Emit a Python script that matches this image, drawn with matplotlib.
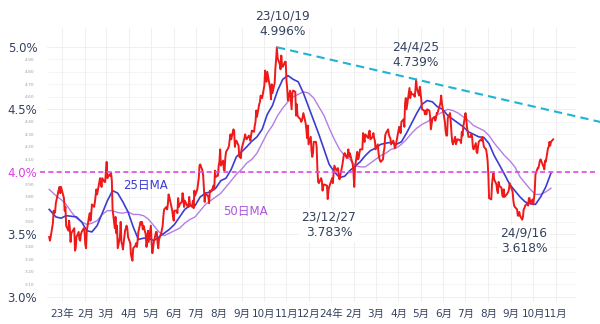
import pandas as pd
import numpy as np
import matplotlib
matplotlib.use("Agg")
import matplotlib.pyplot as plt
import matplotlib.dates as mdates

plt.rcParams['font.family'] = ['DejaVu Sans', 'Noto Sans CJK JP']

# US 10y yield, daily closes (%)
yields_2022 = [3.48, 3.45, 3.48, 3.59, 3.69, 3.67, 3.68, 3.75, 3.86, 3.88, 3.83, 3.88]
yields_2023 = [
    3.79, 3.69, 3.72, 3.57, 3.53, 3.61, 3.55, 3.44, 3.51, 3.55, 3.37, 3.39, 3.48, 3.52, 3.46, 3.45, 3.50, 3.52, 3.55, 3.52,
    3.42, 3.39, 3.53, 3.64, 3.67, 3.61, 3.66, 3.74, 3.72, 3.76, 3.81, 3.86, 3.82, 3.95, 3.92, 3.88, 3.95, 3.92, 3.92,
    4.01, 4.08, 3.95, 3.98, 3.97, 3.99, 3.93, 3.70, 3.55, 3.64, 3.51, 3.57, 3.39, 3.48, 3.60, 3.44, 3.42, 3.38, 3.53, 3.55, 3.57, 3.55, 3.48,
    3.43, 3.34, 3.31, 3.29, 3.39, 3.41, 3.43, 3.40, 3.45, 3.52, 3.60, 3.58, 3.60, 3.54, 3.57, 3.50, 3.40, 3.45, 3.53, 3.44,
    3.57, 3.43, 3.35, 3.39, 3.44, 3.52, 3.52, 3.44, 3.39, 3.46, 3.51, 3.54, 3.57, 3.65, 3.70, 3.72, 3.70, 3.74, 3.82, 3.80, 3.69, 3.64,
    3.61, 3.69, 3.69, 3.67, 3.79, 3.72, 3.74, 3.76, 3.83, 3.79, 3.72, 3.77, 3.72, 3.72, 3.80, 3.74, 3.72, 3.77, 3.71, 3.85, 3.81,
    3.86, 3.95, 4.05, 4.06, 4.01, 3.97, 3.86, 3.76, 3.83, 3.81, 3.80, 3.75, 3.85, 3.84, 3.87, 3.89, 3.86, 4.01, 3.96, 3.97,
    4.05, 4.08, 4.18, 4.05, 4.09, 4.02, 4.01, 4.11, 4.16, 4.19, 4.21, 4.26, 4.30, 4.26, 4.34, 4.33, 4.20, 4.24, 4.25, 4.21, 4.12, 4.12, 4.11,
    4.18, 4.27, 4.30, 4.27, 4.26, 4.29, 4.28, 4.25, 4.29, 4.33, 4.32, 4.37, 4.40, 4.49, 4.44, 4.54, 4.56, 4.61, 4.59, 4.59,
    4.69, 4.81, 4.73, 4.72, 4.80, 4.66, 4.58, 4.70, 4.63, 4.71, 4.83, 4.90, 4.996, 4.91, 4.86, 4.82, 4.93, 4.85, 4.84, 4.88, 4.88,
    4.73, 4.67, 4.57, 4.65, 4.57, 4.50, 4.63, 4.65, 4.64, 4.45, 4.54, 4.45, 4.44, 4.42, 4.40, 4.41, 4.47, 4.39, 4.34, 4.27, 4.37,
    4.22, 4.28, 4.17, 4.12, 4.15, 4.24, 4.24, 4.20, 4.02, 3.92, 3.91, 3.95, 3.93, 3.85, 3.89, 3.90, 3.89, 3.783, 3.85, 3.88,
]
yields_2024 = [
    3.95, 3.91, 3.99, 4.05, 4.01, 4.02, 4.03, 3.97, 3.94, 4.06, 4.10, 4.14, 4.15, 4.11, 4.13, 4.18, 4.12, 4.15, 4.08, 4.06, 3.99,
    3.88, 4.03, 4.16, 4.10, 4.11, 4.15, 4.18, 4.18, 4.31, 4.27, 4.24, 4.30, 4.27, 4.32, 4.33, 4.26, 4.28, 4.31, 4.27, 4.25,
    4.18, 4.22, 4.15, 4.11, 4.09, 4.08, 4.10, 4.16, 4.19, 4.29, 4.31, 4.34, 4.30, 4.28, 4.27, 4.22, 4.25, 4.23, 4.19, 4.20,
    4.33, 4.36, 4.35, 4.31, 4.40, 4.42, 4.36, 4.55, 4.59, 4.50, 4.63, 4.67, 4.59, 4.64, 4.62, 4.62, 4.60, 4.65, 4.739, 4.67, 4.61, 4.68,
    4.63, 4.58, 4.50, 4.49, 4.46, 4.49, 4.46, 4.50, 4.49, 4.44, 4.34, 4.38, 4.42, 4.44, 4.41, 4.43, 4.47, 4.47, 4.55, 4.61, 4.55, 4.51,
    4.40, 4.33, 4.29, 4.29, 4.43, 4.47, 4.40, 4.31, 4.24, 4.22, 4.28, 4.22, 4.26, 4.26, 4.25, 4.23, 4.32, 4.29, 4.36,
    4.47, 4.43, 4.36, 4.28, 4.28, 4.30, 4.28, 4.20, 4.18, 4.23, 4.16, 4.15, 4.20, 4.24, 4.26, 4.25, 4.28, 4.24, 4.20, 4.18, 4.14, 4.09,
    3.98, 3.79, 3.78, 3.90, 3.96, 3.99, 3.94, 3.90, 3.85, 3.83, 3.92, 3.89, 3.87, 3.81, 3.80, 3.86, 3.80, 3.82, 3.83, 3.84, 3.86, 3.91,
    3.84, 3.77, 3.73, 3.72, 3.70, 3.65, 3.65, 3.68, 3.65, 3.618, 3.64, 3.70, 3.71, 3.73, 3.75, 3.73, 3.79, 3.79, 3.75, 3.78,
    3.74, 3.79, 3.85, 3.98, 4.03, 4.03, 4.06, 4.09, 4.10, 4.04, 4.02, 4.09, 4.08, 4.19, 4.20, 4.24, 4.21, 4.24, 4.26,
]
market_holidays = ['2022-12-26', '2023-01-02', '2023-01-16', '2023-02-20', '2023-05-29', '2023-06-19',
                   '2023-07-04', '2023-09-04', '2023-10-09', '2023-11-23', '2023-12-25', '2024-01-01',
                   '2024-01-15', '2024-02-19', '2024-03-29', '2024-05-27', '2024-06-19', '2024-07-04',
                   '2024-09-02', '2024-10-14']

# 25-day / 50-day moving averages, read weekly (first point is the chart start)
ma_dates = pd.to_datetime(['2022-12-14']).append(pd.date_range('2022-12-23', '2024-10-25', freq='W-FRI'))
ma25 = [3.70, 3.64, 3.63, 3.65, 3.645, 3.64, 3.60, 3.53, 3.52, 3.57, 3.67, 3.77, 3.85, 3.83, 3.76, 3.68,
        3.56, 3.46, 3.47, 3.47, 3.45, 3.48, 3.51, 3.54, 3.58, 3.64, 3.70, 3.73, 3.73, 3.80, 3.83, 3.84,
        3.87, 3.93, 3.95, 4.02, 4.12, 4.16, 4.20, 4.245, 4.28, 4.34, 4.46, 4.53, 4.65, 4.74, 4.77, 4.74,
        4.72, 4.63, 4.52, 4.41, 4.30, 4.18, 4.06, 4.00, 3.955, 3.965, 4.01, 4.045, 4.08, 4.13, 4.17, 4.19,
        4.22, 4.23, 4.235, 4.22, 4.24, 4.31, 4.39, 4.47, 4.54, 4.57, 4.56, 4.52, 4.50, 4.45, 4.42, 4.39,
        4.36, 4.32, 4.30, 4.28, 4.275, 4.225, 4.13, 4.056, 3.98, 3.90, 3.85, 3.80, 3.76, 3.745, 3.74, 3.80,
        3.88, 3.99]
ma50 = [3.86, 3.81, 3.78, 3.74, 3.68, 3.63, 3.60, 3.58, 3.59, 3.61, 3.66, 3.69, 3.69, 3.675, 3.67, 3.68,
        3.66, 3.66, 3.65, 3.62, 3.57, 3.52, 3.49, 3.51, 3.53, 3.55, 3.59, 3.62, 3.64, 3.69, 3.74, 3.77,
        3.80, 3.83, 3.88, 3.93, 3.98, 4.02, 4.07, 4.10, 4.15, 4.23, 4.31, 4.37, 4.45, 4.51, 4.56, 4.60,
        4.62, 4.64, 4.63, 4.59, 4.52, 4.45, 4.35, 4.26, 4.18, 4.13, 4.10, 4.05, 4.04, 4.04, 4.07, 4.10,
        4.13, 4.15, 4.18, 4.19, 4.22, 4.26, 4.31, 4.35, 4.38, 4.40, 4.43, 4.455, 4.48, 4.50, 4.49, 4.47,
        4.44, 4.41, 4.37, 4.35, 4.33, 4.29, 4.23, 4.18, 4.13, 4.09, 4.04, 3.96, 3.91, 3.86, 3.82, 3.82,
        3.84, 3.87]

# annotated extremes and the resistance line through the two highs
high_dates = ['2023-10-19', '2024-04-25']
high_values = [4.996, 4.739]
trend_end = '2025-01-15'

month_ticks = pd.date_range('2023-01-01', '2024-11-01', freq='MS')
month_labels = ['23年', '2月', '3月', '4月', '5月', '6月', '7月', '8月', '9月', '10月', '11月', '12月',
                '24年', '2月', '3月', '4月', '5月', '6月', '7月', '8月', '9月', '10月', '11月']
major_y = [3.0, 3.5, 4.0, 4.5, 5.0]
major_y_labels = ['3.0%', '3.5%', '4.0%', '4.5%', '5.0%']
minor_y = [3.1, 3.2, 3.3, 3.4, 3.6, 3.7, 3.8, 3.9, 4.1, 4.2, 4.3, 4.4, 4.6, 4.7, 4.8, 4.9]

dates = pd.bdate_range('2022-12-14', '2024-10-28', freq='C', holidays=market_holidays)
values = yields_2022 + yields_2023 + yields_2024
if len(dates) != len(values):
    raise ValueError(f"dates {len(dates)} vs values {len(values)}; per year "
                     f"{[(y, (dates.year == y).sum()) for y in (2022, 2023, 2024)]} vs "
                     f"{[len(yields_2022), len(yields_2023), len(yields_2024)]}")

NAVY = '#34425e'
fig = plt.figure(figsize=(6, 3.24), dpi=100, facecolor='white')
ax = fig.add_axes([47 / 600, 22 / 324, 529 / 600, 274 / 324])

ax.plot(ma_dates, ma50, color='#b57ee6', linewidth=1.0, zorder=3)
ax.plot(ma_dates, ma25, color='#3c3cd2', linewidth=1.2, zorder=4)
ax.plot(dates, values, color='#ee1a1a', linewidth=1.4, zorder=5)

ax.axhline(4.0, xmin=-0.013, xmax=1.036, color='#e048e8', linewidth=1.2,
           linestyle=(0, (3, 2)), clip_on=False, zorder=6)

hx = mdates.date2num(pd.to_datetime(high_dates))
slope = (high_values[1] - high_values[0]) / (hx[1] - hx[0])
ex = mdates.date2num(pd.Timestamp(trend_end))
ax.plot([hx[0], ex], [high_values[0], high_values[0] + slope * (ex - hx[0])],
        color='#1fb3d6', linewidth=1.5, linestyle=(0, (4, 2.5)), clip_on=False, zorder=6)

ax.set_xlim(pd.Timestamp('2022-12-11'), pd.Timestamp('2024-11-28'))
ax.set_ylim(2.96, 5.15)

ax.set_xticks(month_ticks)
ax.set_xticklabels(month_labels, fontsize=7.5, color=NAVY)
ax.set_yticks(major_y)
ax.set_yticklabels(major_y_labels, fontsize=8.5, color=NAVY)
ax.set_yticks(minor_y, minor=True)
ax.set_yticklabels([f"{v:.2f}" for v in minor_y], minor=True, fontsize=3.2, color='#9aa1ab')
for lab in ax.get_yticklabels():
    if lab.get_text() == '4.0%':
        lab.set_color('#d83ee0')
ax.tick_params(axis='both', which='both', length=0)
ax.tick_params(axis='y', which='major', pad=7)
ax.tick_params(axis='y', which='minor', pad=9)
ax.tick_params(axis='x', pad=5)

ax.grid(True, which='major', color='#ececec', linewidth=0.6)
ax.grid(True, which='minor', axis='y', color='#f0f0f0', linewidth=0.5)
for s in ax.spines.values():
    s.set_visible(False)

txt = dict(ha='center', va='center', fontsize=8.8, color=NAVY, linespacing=1.25)
fig.text(283 / 600, 1 - 24 / 324, "23/10/19\n4.996%", **txt)
fig.text(416 / 600, 1 - 55 / 324, "24/4/25\n4.739%", **txt)
fig.text(329 / 600, 1 - 225 / 324, "23/12/27\n3.783%",
         bbox=dict(facecolor='white', edgecolor='none', pad=2), **txt)
fig.text(524 / 600, 1 - 241 / 324, "24/9/16\n3.618%",
         bbox=dict(facecolor='white', edgecolor='none', pad=2), **txt)
fig.text(145 / 600, 1 - 185 / 324, "25日MA", ha='center', va='center', fontsize=8.5, color='#3c3cd2')
fig.text(245 / 600, 1 - 212 / 324, "50日MA", ha='center', va='center', fontsize=8.5, color='#a85ad8')

fig.savefig("out.png", dpi=100, facecolor='white')
